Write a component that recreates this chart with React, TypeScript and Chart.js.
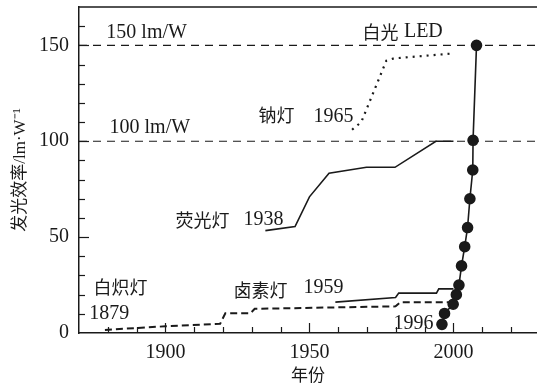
import React, { useEffect, useRef } from "react";
import { Chart, registerables } from "chart.js";

Chart.register(...registerables);

// ---- data (year, lm/W) ----
const ledYears = [1996, 1996.9, 1999.9, 2001, 2001.9, 2002.8, 2003.9, 2004.9, 2005.7, 2006.7, 2006.8, 2008];
const ledValues = [4.5, 10.2, 15, 20, 25, 35, 45, 55, 70, 85, 100.5, 150];

const incYears = [1879, 1900, 1919, 1920.8, 1929.5, 1931, 1979.9, 1981.6, 1998.4];
const incValues = [1.6, 3.5, 4.8, 10.3, 10.3, 12.6, 13.9, 16.1, 16.1];

const halYears = [1959, 1979.9, 1981, 1994.1, 1994.9, 2000];
const halValues = [16.1, 18.5, 20.8, 20.8, 23, 23];

const fluYears = [1934.7, 1945, 1950, 1956.8, 1969.8, 1979.7, 1993.9, 2000];
const fluValues = [53.4, 55.5, 71, 83.3, 86.4, 86.4, 100, 100];

const sodYears = [1964.8, 1968, 1976.7, 1979.3, 2000];
const sodValues = [106, 110, 142, 143.2, 145.8];

const refLevels = [100, 150];

const xMin = 1870;
const xMax = 2029;
const yMin = 0;
const yMax = 170;
const xTickLabels = [1900, 1950, 2000];
const yTickLabels = [0, 50, 100, 150];

const xTitle = "年份";
const yTitle = "发光效率/lm·W⁻¹";

// text annotations in data coordinates
const labelTexts = ["150 lm/W", "100 lm/W", "白光", "LED", "钠灯", "1965", "荧光灯", "1938", "白炽灯", "1879", "卤素灯", "1959", "1996"];
const labelYears = [1879.5, 1880.6, 1968.4, 1982.8, 1932.3, 1951.4, 1903.5, 1927.1, 1875, 1873.6, 1923.6, 1947.9, 1979.2];
const labelValues = [156.4, 106.9, 157, 157, 113.7, 112.7, 59, 59, 24.1, 10, 22.5, 23.6, 4.8];

const pts = (xs: number[], ys: number[]) => xs.map((x, i) => ({ x, y: ys[i] }));

const SERIF = '"Liberation Serif", "DejaVu Serif", serif';
const CJK = '"Noto Sans CJK SC", sans-serif';
const MIXED = '"Liberation Serif", "Noto Sans CJK SC", serif';
const INK = "#1a1a1a";

const overlay = {
  id: "overlay",
  afterDraw(chart: any) {
    const { ctx, chartArea, scales } = chart;
    const x = scales.x;
    const y = scales.y;
    ctx.save();
    ctx.strokeStyle = INK;
    ctx.lineWidth = 1.5;
    ctx.setLineDash([]);
    // top spine
    ctx.beginPath();
    ctx.moveTo(chartArea.left, chartArea.top);
    ctx.lineTo(chartArea.right, chartArea.top);
    ctx.stroke();
    // inward y ticks
    ctx.lineWidth = 1.2;
    for (let v = 10; v < yMax; v += 10) {
      const py = Math.round(y.getPixelForValue(v)) + 0.5;
      const len = v % 50 === 0 ? 10 : 6;
      ctx.beginPath();
      ctx.moveTo(chartArea.left, py);
      ctx.lineTo(chartArea.left + len, py);
      ctx.stroke();
    }
    // inward x ticks
    for (let v = 1880; v < xMax; v += 10) {
      const px = Math.round(x.getPixelForValue(v)) + 0.5;
      const len = v % 50 === 0 ? 10 : 6;
      ctx.beginPath();
      ctx.moveTo(px, chartArea.bottom);
      ctx.lineTo(px, chartArea.bottom - len);
      ctx.stroke();
    }
    // annotations
    ctx.fillStyle = INK;
    ctx.textAlign = "left";
    ctx.textBaseline = "middle";
    labelTexts.forEach((t, i) => {
      const isCjk = /[\u4e00-\u9fff]/.test(t);
      ctx.font = isCjk ? `18px ${CJK}` : `20px ${SERIF}`;
      ctx.fillText(t, x.getPixelForValue(labelYears[i]), y.getPixelForValue(labelValues[i]));
    });
    ctx.restore();
  },
};

const zeroPad = (s: any) => {
  s.paddingTop = 0;
  s.paddingBottom = 0;
  s.paddingLeft = 0;
  s.paddingRight = 0;
};

export default function App() {
  const ref = useRef<HTMLCanvasElement | null>(null);

  useEffect(() => {
    if (!ref.current) return;
    const lineBase = {
      showLine: true,
      pointRadius: 0,
      borderColor: INK,
      backgroundColor: INK,
      fill: false,
      tension: 0,
    };
    const refSets = refLevels.map((lv) => ({
      ...lineBase,
      data: pts([xMin, xMax], [lv, lv]),
      borderWidth: 1.1,
      borderDash: [8, 6],
    }));
    const chart = new Chart(ref.current, {
      type: "scatter",
      data: {
        datasets: [
          ...refSets,
          { ...lineBase, data: pts(incYears, incValues), borderWidth: 2, borderDash: [7, 4] },
          { ...lineBase, data: pts(halYears, halValues), borderWidth: 1.6 },
          { ...lineBase, data: pts(fluYears, fluValues), borderWidth: 1.6 },
          { ...lineBase, data: pts(sodYears, sodValues), borderWidth: 2.2, borderDash: [2, 5] },
          {
            ...lineBase,
            data: pts(ledYears, ledValues),
            borderWidth: 1.6,
            pointRadius: 5,
            pointBackgroundColor: INK,
            pointBorderColor: INK,
          },
        ] as any,
      },
      options: {
        responsive: false,
        animation: false,
        events: [],
        layout: { autoPadding: false, padding: { top: 7, right: 0, left: 0, bottom: 0 } },
        plugins: { legend: { display: false }, tooltip: { enabled: false } },
        scales: {
          x: {
            type: "linear",
            min: xMin,
            max: xMax,
            grid: { display: false, drawTicks: false },
            border: { display: true, color: INK, width: 1.5 },
            afterBuildTicks: (s: any) => {
              s.ticks = xTickLabels.map((v) => ({ value: v }));
            },
            afterFit: (s: any) => {
              s.height = 56;
              zeroPad(s);
            },
            ticks: {
              padding: 8,
              color: INK,
              font: { family: SERIF, size: 20 },
              callback: (v: any) => String(v),
            },
            title: {
              display: true,
              text: xTitle,
              color: INK,
              font: { family: CJK, size: 17 },
              padding: { bottom: 4, top: 0 },
            },
          },
          y: {
            type: "linear",
            min: yMin,
            max: yMax,
            grid: { display: false, drawTicks: false },
            border: { display: true, color: INK, width: 1.5 },
            afterBuildTicks: (s: any) => {
              s.ticks = yTickLabels.map((v) => ({ value: v }));
            },
            afterFit: (s: any) => {
              s.width = 79;
              zeroPad(s);
            },
            ticks: {
              padding: 10,
              color: INK,
              font: { family: SERIF, size: 20 },
              callback: (v: any) => String(v),
            },
            title: {
              display: true,
              text: yTitle,
              color: INK,
              font: { family: MIXED, size: 17 },
              padding: { top: 10, bottom: 0 },
            },
          },
        },
      } as any,
      plugins: [overlay],
    });
    return () => chart.destroy();
  }, []);

  return (
    <div style={{ position: "absolute", left: 0, top: 0, width: 537, height: 389, background: "#fff" }}>
      <canvas ref={ref} width={537} height={389} style={{ display: "block" }} />
    </div>
  );
}
